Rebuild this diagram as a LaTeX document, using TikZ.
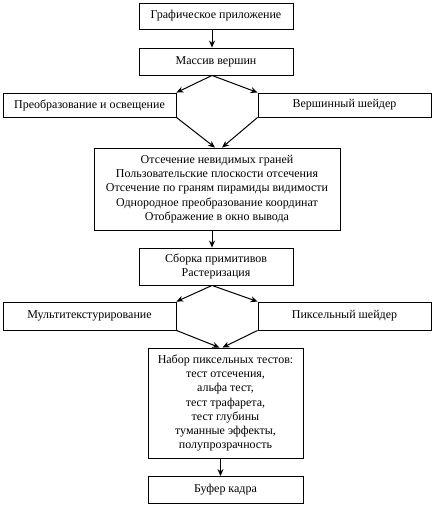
\documentclass[tikz,border=0pt]{standalone}
\usepackage{fontspec}
\setmainfont{Liberation Serif}
\usetikzlibrary{arrows.meta}
\begin{document}
\begin{tikzpicture}[x=1pt,y=-1pt,
  box/.style={draw,line width=0.9pt,inner sep=0pt,align=center,font=\fontsize{12}{14.3}\selectfont},
  arr/.style={line width=1pt,-{Stealth[length=7pt,width=6pt]}},
  ln/.style={line width=0.9pt}]
\useasboundingbox (0,0) rectangle (434,505);
\node[box,minimum width=154,minimum height=26] (app) at (216,16) {Графическое приложение};
\node[box,minimum width=154,minimum height=27] (mass) at (216,61.5) {Массив вершин};
\node[box,minimum width=173,minimum height=24] (trans) at (89.5,105) {Преобразование и освещение};
\node[box,minimum width=173,minimum height=24] (vsh) at (344.5,105) {Вершинный шейдер};
\node[box,minimum width=246,minimum height=82] (clip) at (217,189) {Отсечение невидимых граней\\Пользовательские плоскости отсечения\\Отсечение по граням пирамиды видимости\\Однородное преобразование координат\\Отображение в окно вывода};
\node[box,minimum width=154,minimum height=37] (asm) at (216,266.5) {Сборка примитивов\\Растеризация};
\node[box,minimum width=173,minimum height=28] (mt) at (89.5,316) {Мультитекстурирование};
\node[box,minimum width=173,minimum height=28] (psh) at (344.5,316) {Пиксельный шейдер};
\node[box,minimum width=155,minimum height=110] (tests) at (225.5,403) {Набор пиксельных тестов:\\тест отсечения,\\альфа тест,\\тест трафарета,\\тест глубины\\туманные эффекты,\\полупрозрачность};
\node[box,minimum width=155,minimum height=27] (fb) at (225.5,490) {Буфер кадра};
\draw[arr] ([xshift=-4]app.south) -- ([xshift=-4]mass.north);
\draw[arr] ([xshift=-4]mass.south) -- (trans.north east);
\draw[arr] ([xshift=-4]mass.south) -- (vsh.north west);
\draw[arr] (trans.south east) -- ([xshift=-2]clip.north);
\draw[arr] (vsh.south west) -- ([xshift=5]clip.north);
\draw[arr] ([xshift=-5]clip.south) -- ([xshift=-4]asm.north);
\draw[arr] ([xshift=-4]asm.south) -- (mt.north east);
\draw[arr] ([xshift=-4]asm.south) -- (psh.north west);
\draw[arr] (mt.south east) -- ([xshift=-6]tests.north);
\draw[arr] (psh.south west) -- ([xshift=-3]tests.north);
\draw[arr] ([xshift=-5]tests.south) -- ([xshift=-5]fb.north);
\end{tikzpicture}
\end{document}
